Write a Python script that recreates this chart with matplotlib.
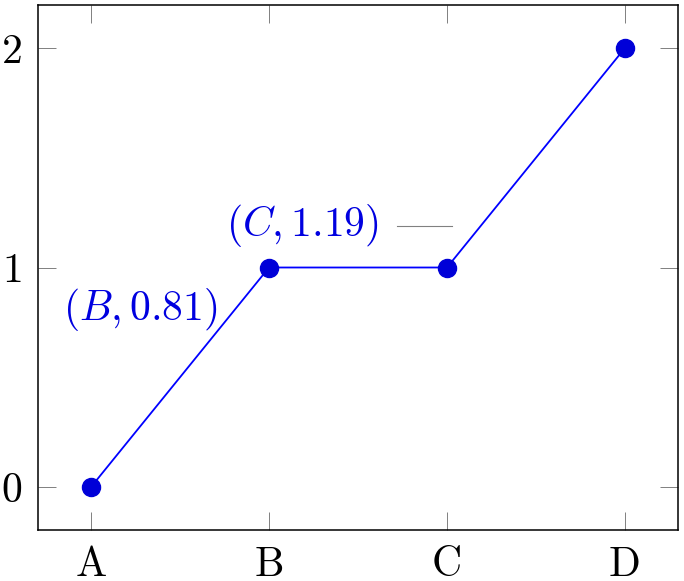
import matplotlib
matplotlib.use("Agg")
import matplotlib.pyplot as plt

# data
categories = ["A", "B", "C", "D"]
values = [0, 1, 1, 2]
yticks = [0, 1, 2]

# annotations: (text, x, y)
label_b = (r"$(B, 0.81)$", 0.71, 0.81)
label_c = (r"$(C, 1.19)$", 1.62, 1.19)
pin_c = ([1.72, 2.03], [1.19, 1.19])

plt.rcParams.update({
    "font.family": "serif",
    "font.serif": ["cmr10"],
    "mathtext.fontset": "cm",
    "axes.formatter.use_mathtext": True,
    "font.size": 30,
})

fig = plt.figure(figsize=(6.84, 5.81), dpi=100)
ax = fig.add_axes([38 / 684, 51 / 581, 640 / 684, 525 / 581])

xs = list(range(len(categories)))
ax.plot(xs, values, color="#0000ff", linewidth=1.3, marker="o",
        markersize=13, markerfacecolor="#0000d8", markeredgecolor="#0000d8",
        zorder=3)

ax.text(label_b[1], label_b[2], label_b[0], color="#0000e0", fontsize=30,
        ha="right", va="center")
ax.text(label_c[1], label_c[2], label_c[0], color="#0000e0", fontsize=30,
        ha="right", va="center")
ax.plot(pin_c[0], pin_c[1], color="gray", linewidth=0.8)

ax.set_xlim(-0.298, 3.298)
ax.set_ylim(-0.196, 2.196)
ax.set_xticks(xs)
ax.set_xticklabels(categories)
ax.set_yticks(yticks)
ax.set_yticklabels([str(v) for v in yticks])

ax.tick_params(direction="in", length=13, width=0.7, color="#808080",
               top=True, right=True, labelsize=30)
ax.tick_params(axis="y", pad=11)
ax.tick_params(axis="x", pad=12)
for s in ax.spines.values():
    s.set_linewidth(1.1)

fig.savefig("out.png", dpi=100)
